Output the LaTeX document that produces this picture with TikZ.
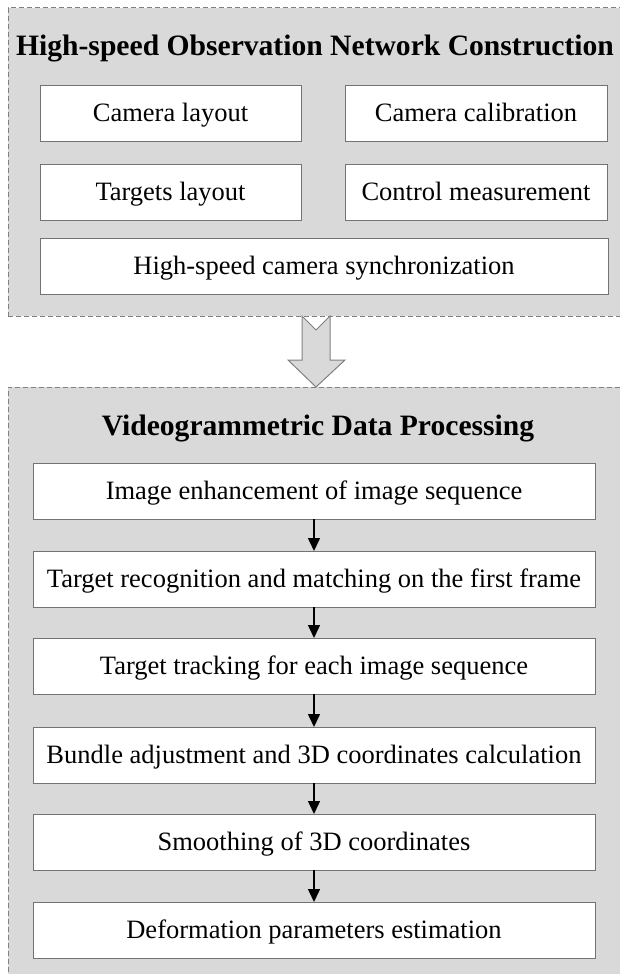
\documentclass[tikz,border=0pt]{standalone}
\usepackage{fontspec}
\setmainfont{Liberation Serif}
\usetikzlibrary{arrows.meta}

\begin{document}
\begin{tikzpicture}[x=1pt,y=-1pt,
    panel/.style={draw=black!50, fill=black!15, line width=1pt, dash pattern=on 5pt off 3pt, inner sep=0pt, outer sep=0pt},
    box/.style={draw=black!55, fill=white, line width=1pt, minimum height=56pt, inner sep=0pt, outer sep=0pt,
        text height=20pt, text depth=4pt, font=\fontsize{26.5}{30}\selectfont},
    heading/.style={anchor=base, inner sep=0pt, font=\fontsize{29.6}{34}\selectfont\bfseries},
    flow/.style={-{Triangle[length=13pt,width=12pt]}, line width=1.5pt}]
    \useasboundingbox (0,0) rectangle (619,974);
    % the two panels
    \node[panel, anchor=north west, minimum width=622pt, minimum height=308pt] (netpanel) at (8,8) {};
    \node[panel, anchor=north west, minimum width=622pt, minimum height=600pt] (procpanel) at (8,387) {};
    \node[heading] (nethead) at (315,56) {High-speed Observation Network Construction};
    \node[heading] (prochead) at (318,435) {Videogrammetric Data Processing};
    % observation network
    \node[box, minimum width=261pt] (camlay) at (170.5,113) {Camera layout};
    \node[box, minimum width=262pt] (camcal) at (476,113) {Camera calibration};
    \node[box, minimum width=261pt] (tarlay) at (170.5,192) {Targets layout};
    \node[box, minimum width=262pt] (ctrl) at (476,192) {Control measurement};
    \node[box, minimum width=568pt] (sync) at (324,266.5) {High-speed camera synchronization};
    % big arrow
    \draw[draw=black!50, fill=black!15, line width=1pt, line join=miter]
        (302,316) -- (316,330) -- (330,316) -- (330,360) -- (345,360) -- (316,387)
        -- (288,360) -- (302,360) -- cycle;
    % data processing
    \node[box, minimum width=562pt] (enh) at (314,491) {Image enhancement of image sequence};
    \node[box, minimum width=562pt] (rec) at (314,579) {Target recognition and matching on the first frame};
    \node[box, minimum width=562pt] (track) at (314,666) {Target tracking for each image sequence};
    \node[box, minimum width=562pt] (bundle) at (314,755) {Bundle adjustment and 3D coordinates calculation};
    \node[box, minimum width=562pt] (smooth) at (314,842) {Smoothing of 3D coordinates};
    \node[box, minimum width=562pt] (deform) at (314,930) {Deformation parameters estimation};
    \draw[flow] (enh) -- (rec);
    \draw[flow] (rec) -- (track);
    \draw[flow] (track) -- (bundle);
    \draw[flow] (bundle) -- (smooth);
    \draw[flow] (smooth) -- (deform);
\end{tikzpicture}
\end{document}
